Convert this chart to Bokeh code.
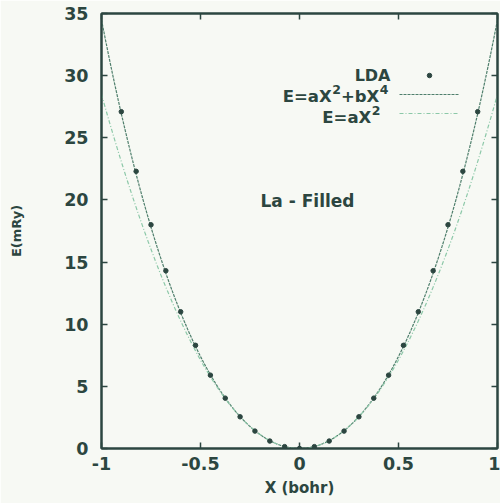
import numpy as np
from bokeh.plotting import figure
from bokeh.models import LinearAxis, FixedTicker, Label
from bokeh.embed import file_html
from bokeh.resources import INLINE

# LDA total energies (mRy) versus displacement X (bohr)
lda_x = [-0.9, -0.825, -0.75, -0.675, -0.6, -0.525, -0.45, -0.375, -0.3, -0.225,
         -0.15, -0.075, 0.0, 0.075, 0.15, 0.225, 0.3, 0.375, 0.45, 0.525, 0.6,
         0.675, 0.75, 0.825, 0.9]
lda_e = [27.1, 22.3, 18.0, 14.3, 11.0, 8.3, 5.9, 4.05, 2.55, 1.4,
         0.6, 0.15, 0.0, 0.15, 0.6, 1.4, 2.55, 4.05, 5.9, 8.3, 11.0,
         14.3, 18.0, 22.3, 27.1]

# fitted coefficients (mRy / bohr^n)
quartic_a = 28.0
quartic_b = 6.5
harmonic_a = 28.5

x_ticks = [-1, -0.5, 0, 0.5, 1]
x_tick_labels = ["-1", "-0.5", "0", "0.5", "1"]
y_ticks = [0, 5, 10, 15, 20, 25, 30, 35]

ink = "#2c4640"
quartic_color = "#4f7f6c"
harmonic_color = "#8cc8a8"
bg = "#f7f9f4"
font = "DejaVu Sans"

# frame geometry in pixels
FL, FR, FT, FB = 101, 3, 13, 55
W, H = 500, 503
FW, FH = W - FL - FR, H - FT - FB

p = figure(width=W, height=H, x_range=(-1, 1), y_range=(0, 35),
           output_backend="svg", toolbar_location=None,
           min_border_left=FL, min_border_right=FR,
           min_border_top=FT, min_border_bottom=FB)
p.background_fill_color = bg
p.border_fill_color = bg
p.grid.visible = False
p.outline_line_color = ink
p.outline_line_width = 2

xs = np.linspace(-1, 1, 401)
p.line(xs, quartic_a * xs**2 + quartic_b * xs**4, line_color=quartic_color,
       line_width=1.2, line_dash="3 1")
p.line(xs, harmonic_a * xs**2, line_color=harmonic_color,
       line_width=1.2, line_dash="4 2 1 2")
p.scatter(lda_x, lda_e, size=4.5, color=ink)

p.add_layout(LinearAxis(), "right")
p.add_layout(LinearAxis(), "above")
for ax in list(p.xaxis) + list(p.yaxis):
    is_x = ax in p.xaxis
    shown = ax is p.below[0] or ax is p.left[0]
    ax.ticker = FixedTicker(ticks=x_ticks if is_x else y_ticks)
    ax.major_tick_in = 6
    ax.major_tick_out = 0
    ax.minor_tick_line_color = None
    ax.axis_line_color = ink
    ax.axis_line_width = 2
    ax.major_tick_line_color = ink
    ax.major_tick_line_width = 1.5
    ax.major_label_text_font = font
    ax.major_label_text_font_style = "bold"
    ax.major_label_text_font_size = "17.5px"
    ax.major_label_text_color = ink if shown else None
    ax.axis_label_text_font = font
    ax.axis_label_text_font_style = "bold"
    ax.axis_label_text_color = ink

xb = p.below[0]
yl = p.left[0]
xb.major_label_overrides = {t: l for t, l in zip(x_ticks, x_tick_labels)}
xb.major_label_standoff = 8
yl.major_label_standoff = 13
xb.axis_label = "X (bohr)"
xb.axis_label_text_font_size = "15px"
xb.axis_label_standoff = 6
yl.axis_label = "E(mRy)"
yl.axis_label_text_font_size = "13px"
yl.axis_label_standoff = 37


def fx(px):
    # canvas pixel column -> frame screen x
    return px - FL


def fy(py):
    # canvas pixel row -> frame screen y (from bottom)
    return FH - (py - FT)


def text(px, py, s, size, align="right"):
    p.add_layout(Label(x=fx(px), y=fy(py), x_units="screen", y_units="screen",
                       text=s, text_align=align, text_baseline="middle",
                       text_font=font, text_font_style="bold",
                       text_font_size=f"{size}px", text_color=ink))


# legend entries, with raised exponents; pieces are set from the right edge
LEG = 16.5
SUP = 12.5
SUP_W = 0.696 * SUP + 0.5
PLUS_BX_W = (0.838 + 0.716 + 0.774) * LEG

text(390, 75, "LDA", 16)

x_end = 388
text(x_end, 89, "4", SUP)
text(x_end - SUP_W, 96, "+bX", LEG)
text(x_end - SUP_W - PLUS_BX_W, 89, "2", SUP)
text(x_end - 2 * SUP_W - PLUS_BX_W, 96, "E=aX", LEG)

x_end = 380
text(x_end, 110, "2", SUP)
text(x_end - SUP_W, 117, "E=aX", LEG)

text(307, 200, "La - Filled", 17, align="center")


# legend sample marks, placed in data space
def sx(px):
    return -1 + (px - FL) / FW * 2


def sy(py):
    return (FT + FH - py) / FH * 35


p.scatter([sx(429)], [sy(75)], size=4.5, color=ink)
p.line([sx(399), sx(458)], [sy(94), sy(94)], line_color=quartic_color,
       line_width=1.2, line_dash="3 1")
p.line([sx(399), sx(458)], [sy(113), sy(113)], line_color=harmonic_color,
       line_width=1.2, line_dash="4 2 1 2")

open("out.html", "w").write(file_html(p, INLINE))
